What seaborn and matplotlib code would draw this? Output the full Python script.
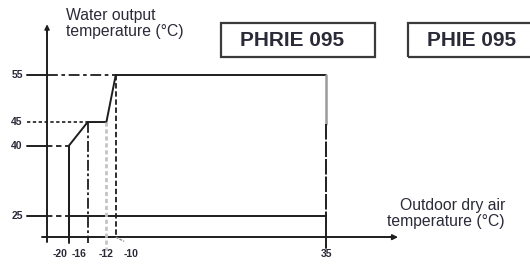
import matplotlib
matplotlib.use("Agg")
import matplotlib.pyplot as plt
import seaborn as sns
from matplotlib.patches import Rectangle

# ---------------------------------------------------------
# Data read off the operating envelope
# ---------------------------------------------------------
env_x = [-20, -20, -16, -12, -10, 35, 35]
env_y = [20.5, 40, 45, 45, 55, 55, 20.5]
low_x = [-20, 35]
low_y = [25, 25]

y_ticks = [25, 40, 45, 55]
y_tick_ends = [-20, -20, -16, -10]      # where each leader line meets the envelope
x_ticks = [-20, -16, -12, -10, 35]
x_tick_labels = ["-20", "-16", "-12", "-10", "35"]

models = ["PHRIE 095", "PHIE 095"]

# ---------------------------------------------------------
# Figure
# ---------------------------------------------------------
sns.set_theme(style="white")
plt.rcParams["font.family"] = ["Liberation Sans", "DejaVu Sans"]

ink = "#1e1e1e"
txt = "#2a2a38"
PX = 4.673   # pixels per degree on the x axis

fig = plt.figure(figsize=(5.30, 2.64), dpi=100)
ax = fig.add_axes([0, 0, 1, 1])
ax.set_xlim(-34.77, 78.65)
ax.set_ylim(14.79, 70.96)
ax.axis("off")

y_axis_x = -24.7
x_axis_y = 20.5
tick_left = -29.0

# axes with arrows
ax.plot([y_axis_x, y_axis_x], [19.4, 65.0], color=ink, lw=1.4)
ax.annotate("", xy=(y_axis_x, 66.4), xytext=(y_axis_x, 63.5),
            arrowprops=dict(arrowstyle="-|>", color=ink, lw=1.2, mutation_scale=7))
ax.plot([-25.8, 49.5], [x_axis_y, x_axis_y], color=ink, lw=1.4)
ax.annotate("", xy=(51.0, x_axis_y), xytext=(48.0, x_axis_y),
            arrowprops=dict(arrowstyle="-|>", color=ink, lw=1.2, mutation_scale=8))

# envelope
sns.lineplot(x=env_x[:5], y=env_y[:5], ax=ax, color=ink, lw=1.4, sort=False,
             estimator=None)
ax.plot(env_x[4:6], env_y[4:6], color=ink, lw=1.4)
ax.plot([35, 35], [55, 44.5], color="#9a9a9a", lw=1.8)
ax.plot([35, 35], [44.5, 25], color=ink, lw=1.4, ls=(0, (8, 1)))
ax.plot([35, 35], [25, 18.6], color=ink, lw=1.4)
ax.plot([35, 35], [18.9, 18.3], color=ink, lw=1.4)
sns.lineplot(x=low_x, y=low_y, ax=ax, color=ink, lw=1.4, estimator=None)

# vertical guide lines
ax.plot([-20, -20], [40, 19.3], color=ink, lw=1.4)
ax.plot([-16, -16], [45, 19.3], color=ink, lw=1.3, ls=(0, (6, 1.5, 1.5, 1.5)))
ax.plot([-12, -12], [45, 17.8], color="#c4c4c4", lw=2.0, ls=(0, (1.5, 1)))
ax.plot([-10, -10], [55, x_axis_y], color=ink, lw=1.3, ls=(0, (3, 1.5)))
ax.plot([-10, -8.2], [x_axis_y, 19.6], color="#8a8a8a", lw=1.0, ls=(0, (2, 1)))

# leader lines from y ticks
styles = {25: (0, (3, 2)), 40: (0, (3, 2)), 45: (0, (2, 1.5)), 55: (0, (6, 2, 2, 2))}
for yv, xe in zip(y_ticks, y_tick_ends):
    if yv == 45:
        ax.plot([tick_left, xe], [yv, yv], color=ink, lw=1.2, ls=styles[yv])
    else:
        ax.plot([tick_left, y_axis_x], [yv, yv], color=ink, lw=1.4)
        ax.plot([y_axis_x, xe], [yv, yv], color=ink, lw=1.3, ls=styles[yv])
    ax.text(tick_left - 0.9, yv, str(yv), ha="right", va="center",
            fontsize=7.5, fontweight="bold", color=txt)

# x tick labels (nudged sideways as in the original so they don't collide)
nudge_px = [-9, -9, 0, 15, 0]
for xv, lab, dx in zip(x_ticks, x_tick_labels, nudge_px):
    ax.text(xv + dx / PX, 17.0, lab, ha="center", va="center", fontsize=7.5,
            fontweight="bold", color=txt)

# axis titles
ax.text(-20.6, 69.3, "Water output\ntemperature (\u00b0C)", ha="left", va="top",
        fontsize=11.3, color=txt, linespacing=1.1)
ax.text(73.3, 28.9, "Outdoor dry air\ntemperature (\u00b0C)", ha="right", va="top",
        fontsize=11.3, color=txt, linespacing=1.1, multialignment="right")

# model boxes: (left px, width px, text centre px)
boxes = [(221, 154, 292), (408, 128, 472)]
for (x0, w, xc), name in zip(boxes, models):
    fig.patches.append(Rectangle((x0 / 530, 1 - 57 / 264), w / 530, 34 / 264,
                                 transform=fig.transFigure, fill=False,
                                 edgecolor="#3a3a3a", lw=1.6))
    fig.text(xc / 530, 1 - 40 / 264, name, ha="center", va="center",
             fontsize=15, fontweight="bold", color=txt)

fig.savefig("out.png", dpi=100)
